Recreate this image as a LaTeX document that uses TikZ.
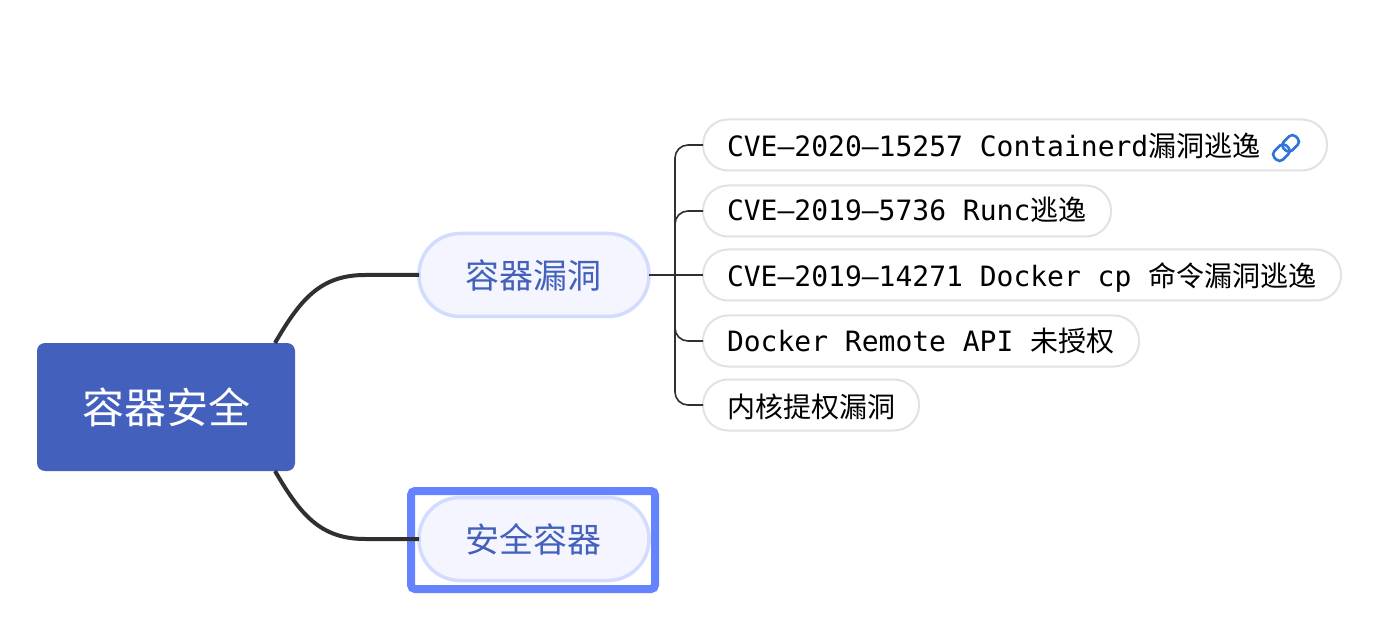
\documentclass[tikz,border=0pt]{standalone}
\usepackage{fontspec}
\setmainfont{DejaVu Sans}
\setmonofont{DejaVu Sans Mono}
\newfontfamily\cjk{Noto Sans CJK SC}
\newcommand{\gap}{\hspace{16.8pt}}
\usetikzlibrary{calc}
\definecolor{rootblue}{HTML}{4360BC}
\definecolor{mainfill}{HTML}{F4F5FF}
\definecolor{mainedge}{HTML}{D3DCFF}
\definecolor{selblue}{HTML}{6583FF}
\definecolor{kidedge}{HTML}{E2E2E2}
\definecolor{linkblue}{HTML}{2F74D6}
\definecolor{wire}{HTML}{303030}
\tikzset{
  rootbox/.style={fill=rootblue,rounded corners=8pt,minimum width=258pt,minimum height=128pt,inner sep=0pt,outer sep=0pt,text=white,font=\cjk\fontsize{42}{48}\selectfont},
  mainbox/.style={draw=mainedge,fill=mainfill,line width=3.5pt,rounded corners=41pt,minimum width=230pt,minimum height=83pt,inner sep=0pt,outer sep=0pt,text=rootblue,font=\cjk\fontsize{34}{40}\selectfont},
  selbox/.style={draw=selblue,line width=8pt,rounded corners=4pt,minimum width=244pt,minimum height=98pt,inner sep=0pt,outer sep=0pt},
  kidbox/.style={draw=kidedge,fill=white,line width=2pt,rounded corners=25pt,minimum height=51pt,inner ysep=0pt,inner xsep=20pt,outer sep=0pt,text width=#1-40pt,minimum width=#1,align=left,anchor=west,text height=24pt,text depth=0pt,font=\ttfamily\fontsize{28}{32}\selectfont},
  thick wire/.style={draw=wire,line width=4pt},
  thin wire/.style={draw=wire,line width=1.6pt,rounded corners=13pt},
  linkicon/.style={draw=linkblue,line width=2.6pt,rounded corners=4.5pt}
}
\begin{document}
\begin{tikzpicture}[x=1pt,y=-1pt]
\useasboundingbox (0,0) rectangle (1400,644);
\fill[white] (0,0) rectangle (1400,644);
\node[rootbox] (root) at (166,407) {容器安全};
\node[mainbox] (m1) at (534,275) {\kern-2pt 容器漏洞};
\node[mainbox] (m2) at (534,539) {\kern-2pt 安全容器};
\node[selbox] (sel) at (533,540) {};
\node[kidbox=624pt] (c1) at (703,145) {\hspace*{4pt}CVE–2020–15257\gap Containerd{\cjk 漏洞逃逸}};
\node[kidbox=408pt,text height=20pt] (c2) at (703,211) {\hspace*{4pt}CVE–2019–5736\gap Runc{\cjk 逃逸}};
\node[kidbox=638pt] (c3) at (703,275) {\hspace*{4pt}CVE–2019–14271\gap Docker\gap cp\gap {\cjk 命令漏洞逃逸}};
\node[kidbox=436pt,text height=20pt] (c4) at (703,341) {\hspace*{4pt}Docker\gap Remote\gap API\gap {\cjk 未授权}};
\node[kidbox=216pt] (c5) at (703,405) {\hspace*{4pt}{\cjk 内核提权漏洞}};
\coordinate (hub) at (675,275);
\draw[thin wire] (m1.east) -- (c3.west);
\draw[thin wire] (c1.west) -| (hub);
\draw[thin wire] (c2.west) -| (hub);
\draw[thin wire] (c4.west) -| (hub);
\draw[thin wire] (c5.west) -| (hub);
\coordinate (r1) at ($(root.north east)+(-20,0)$);
\coordinate (r2) at ($(root.south east)+(-20,0)$);
\draw[thick wire] (r1) .. controls (300,300) and (320,275) .. (365,275) -- (m1.west);
\draw[thick wire] (r2) .. controls (300,514) and (320,539) .. (365,539) -- (m2.west);
\begin{scope}[shift={(1286,148)},rotate=45]
\draw[linkicon] (-15,-6) rectangle (2,6);
\draw[linkicon] (-2,-6) rectangle (15,6);
\end{scope}
\end{tikzpicture}
\end{document}
